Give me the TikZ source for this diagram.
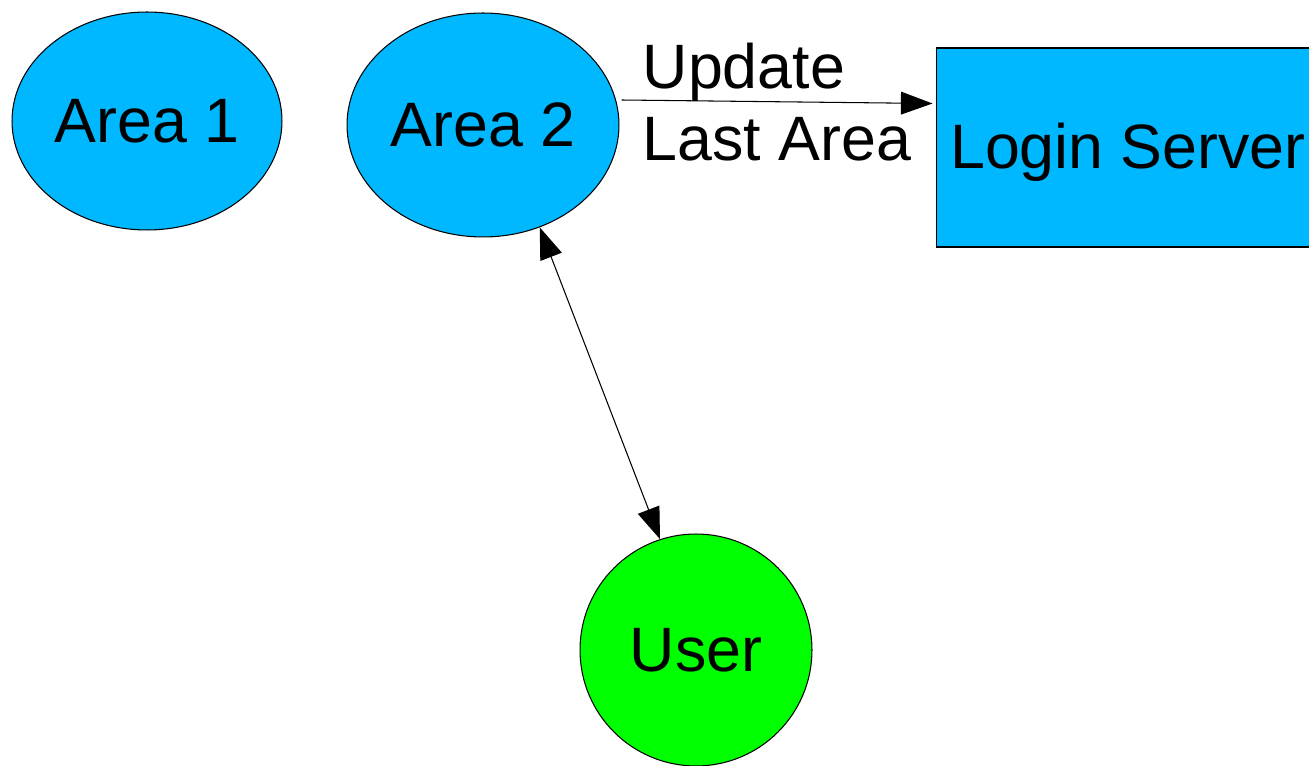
\documentclass[tikz,border=0pt]{standalone}
\usepackage{fontspec}
\setmainfont{Liberation Sans}
\usetikzlibrary{shapes.geometric,arrows.meta,calc}

\definecolor{areablue}{RGB}{0,184,255}
\definecolor{usergreen}{RGB}{0,255,0}

\tikzset{
  big/.style={font=\fontsize{35.7}{41}\selectfont},
  area/.style={ellipse, draw, line width=0.6pt, fill=areablue, inner sep=0pt, big},
  link/.style={line width=0.6pt, -{Triangle[length=18pt,width=13pt]}},
}

\begin{document}
\begin{tikzpicture}[x=0.02cm,y=0.02cm]
                      \useasboundingbox (0,0) rectangle (1309,-766);
                      \clip (0,0) rectangle (1309,-766);
                      \node [area, minimum width=5.4cm, minimum height=4.36cm] (a1) at (147,-121) {Area 1};
                      \node [area, minimum width=5.44cm, minimum height=4.48cm] (a2) at (483,-125) {Area 2};
                      \node [draw, line width=0.6pt, fill=areablue, minimum width=7.68cm, minimum height=3.98cm, text height=1.1cm, big] (login) at (1128,-147.5) {Login Server};
                      \node [circle, draw, line width=0.6pt, fill=usergreen, minimum size=4.64cm, inner sep=0pt, big] (user) at (696,-650) {User};
                      \draw [link] ($(a2.east)+(2,25)$) -- ($(login.west)+(-3,44)$) node [midway, align=left, big] {Update\\Last Area};
                      \draw [link, {Triangle[length=18pt,width=13pt]}-{Triangle[length=18pt,width=13pt]}] (a2.-61) -- (user.108);
                  \end{tikzpicture}
\end{document}
